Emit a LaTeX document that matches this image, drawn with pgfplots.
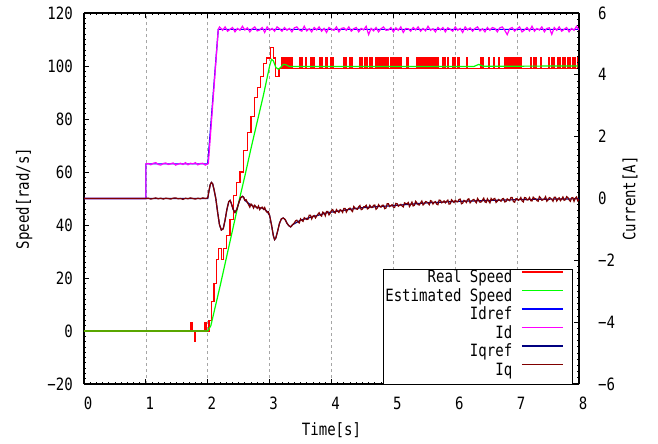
\documentclass[border=0pt]{standalone}
\usepackage{fontspec}
\setmainfont{DejaVu Sans Mono}[FakeStretch=0.83]
\usepackage{pgfplots}
\pgfplotsset{compat=1.18}
\newcommand{\fs}{\fontsize{17}{20}\selectfont}
\definecolor{cRed}{RGB}{255,0,0}
\definecolor{cGreen}{RGB}{0,255,0}
\definecolor{cBlue}{RGB}{0,0,255}
\definecolor{cMag}{RGB}{255,0,255}
\definecolor{cNavy}{RGB}{0,0,128}
\definecolor{cMaroon}{RGB}{128,0,0}
\pgfplotsset{
  common/.style={
    scale only axis, width=495bp, height=371bp,
    at={(0,0)}, anchor=south west,
    xmin=0, xmax=8,
    axis line style={line width=1.3bp, black, -},
    tick style={line width=0.8bp, black},
    major tick length=5bp, minor tick length=2.5bp,
    tick align=inside,
    tick label style={font=\fs},
    label style={font=\fs},
    every axis plot/.append style={line width=1.2bp},
  }
}
\begin{document}
\begin{tikzpicture}
\useasboundingbox (-84bp,-60bp) rectangle (574bp,384bp);
\begin{axis}[common,
  ymin=-20, ymax=120,
  axis y line*=left,
  xtick={0,1,2,3,4,5,6,7,8},
  xticklabels={0,1,2,3,4,5,6,7,8},
  xtick pos=both,
  minor x tick num=9,
  ytick={-20,0,20,40,60,80,100,120},
  yticklabels={−20,0,20,40,60,80,100,120},
  minor y tick num=9,
  xticklabel style={anchor=north, inner sep=0pt, yshift=-13bp, xshift=4bp},
  yticklabel style={anchor=east, inner sep=0pt, xshift=-11bp},
  xmajorgrids,
  major grid style={dashed, gray!70, line width=0.7bp},
  xlabel={Time[s]},
  xlabel style={at={(rel axis cs:0.5,-0.124)}, anchor=center},
  ylabel={Speed[rad/s]},
  ylabel style={at={(rel axis cs:-0.121,0.5)}, anchor=center},
]
\addplot[cRed] coordinates {
(0,0)(1.73,0)(1.73,3.3)(1.745,3.3)(1.745,0)(1.785,0)(1.785,-4)(1.795,-4)(1.795,0)
(1.95,0)(1.95,3.3)(1.96,3.3)(1.96,0)(1.97,0)(1.97,3.3)(1.98,3.3)(1.98,0)(2.02,0)
(2.02,4)(2.06,4)(2.06,11)(2.1,11)(2.1,18)(2.14,18)(2.14,27)(2.17,27)(2.17,31)(2.22,31)
(2.22,27)(2.25,27)(2.25,31)(2.3,31)(2.3,36)(2.36,36)(2.36,42)(2.42,42)(2.42,51)(2.47,51)
(2.47,56)(2.52,56)(2.52,60)(2.58,60)(2.58,68)(2.64,68)(2.64,75)(2.7,75)(2.7,81)(2.75,81)
(2.75,88)(2.8,88)(2.8,92)(2.85,92)(2.85,96)(2.9,96)(2.9,101)(2.95,101)(2.95,103)(3.01,103)
(3.01,107)(3.06,107)(3.06,103)(3.09,103)(3.09,96)(3.15,96)(3.15,99)(3.20,99)
(3.20,103)(3.215,103)(3.215,99)(3.23,99)(3.23,103)(3.245,103)(3.245,99)
(3.26,99)(3.26,103)(3.275,103)(3.275,99)(3.29,99)(3.29,103)(3.305,103)(3.305,99)
(3.32,99)(3.32,103)(3.335,103)(3.335,99)(3.35,99)(3.35,103)(3.365,103)(3.365,99)
(3.48,99)(3.48,103)(3.495,103)(3.495,99)(3.51,99)(3.51,103)(3.525,103)(3.525,99)
(3.58,99)(3.58,103)(3.595,103)(3.595,99)(3.67,99)(3.67,103)(3.685,103)(3.685,99)
(3.71,99)(3.71,103)(3.725,103)(3.725,99)(3.81,99)(3.81,103)(3.825,103)(3.825,99)
(3.83,99)(3.83,103)(3.845,103)(3.845,99)(3.90,99)(3.90,103)(3.915,103)(3.915,99)
(3.92,99)(3.92,103)(3.935,103)(3.935,99)(3.99,99)(3.99,103)(4.005,103)(4.005,99)
(4.01,99)(4.01,103)(4.025,103)(4.025,99)(4.19,99)(4.19,103)(4.205,103)(4.205,99)
(4.22,99)(4.22,103)(4.235,103)(4.235,99)(4.29,99)(4.29,103)(4.305,103)(4.305,99)
(4.33,99)(4.33,103)(4.345,103)(4.345,99)(4.45,99)(4.45,103)(4.465,103)(4.465,99)
(4.49,99)(4.49,103)(4.505,103)(4.505,99)(4.53,99)(4.53,103)(4.545,103)(4.545,99)
(4.57,99)(4.57,103)(4.585,103)(4.585,99)(4.61,99)(4.61,103)(4.625,103)(4.625,99)
(4.64,99)(4.64,103)(4.655,103)(4.655,99)(4.71,99)(4.71,103)(4.725,103)(4.725,99)
(4.74,99)(4.74,103)(4.755,103)(4.755,99)(4.77,99)(4.77,103)(4.785,103)(4.785,99)
(4.80,99)(4.80,103)(4.815,103)(4.815,99)(4.84,99)(4.84,103)(4.855,103)(4.855,99)
(4.87,99)(4.87,103)(4.885,103)(4.885,99)(4.90,99)(4.90,103)(4.915,103)(4.915,99)
(4.95,99)(4.95,103)(4.965,103)(4.965,99)(4.98,99)(4.98,103)(4.995,103)(4.995,99)
(5.02,99)(5.02,103)(5.035,103)(5.035,99)(5.05,99)(5.05,103)(5.065,103)(5.065,99)
(5.08,99)(5.08,103)(5.095,103)(5.095,99)(5.11,99)(5.11,103)(5.125,103)(5.125,99)
(5.22,99)(5.22,103)(5.235,103)(5.235,99)(5.38,99)(5.38,103)(5.395,103)(5.395,99)
(5.41,99)(5.41,103)(5.425,103)(5.425,99)(5.44,99)(5.44,103)(5.455,103)(5.455,99)
(5.47,99)(5.47,103)(5.485,103)(5.485,99)(5.50,99)(5.50,103)(5.515,103)(5.515,99)
(5.53,99)(5.53,103)(5.545,103)(5.545,99)(5.57,99)(5.57,103)(5.585,103)(5.585,99)
(5.60,99)(5.60,103)(5.615,103)(5.615,99)(5.64,99)(5.64,103)(5.655,103)(5.655,99)
(5.68,99)(5.68,103)(5.695,103)(5.695,99)(5.72,99)(5.72,103)(5.735,103)(5.735,99)
(5.79,99)(5.79,103)(5.805,103)(5.805,99)(5.83,99)(5.83,103)(5.845,103)(5.845,99)
(5.87,99)(5.87,103)(5.885,103)(5.885,99)(5.95,99)(5.95,103)(5.965,103)(5.965,99)
(5.99,99)(5.99,103)(6.005,103)(6.005,99)(6.03,99)(6.03,103)(6.045,103)(6.045,99)
(6.06,99)(6.06,103)(6.075,103)(6.075,99)(6.18,99)(6.18,103)(6.195,103)(6.195,99)
(6.41,99)(6.41,103)(6.425,103)(6.425,99)(6.44,99)(6.44,103)(6.455,103)(6.455,99)
(6.54,99)(6.54,103)(6.555,103)(6.555,99)(6.62,99)(6.62,103)(6.635,103)(6.635,99)
(6.70,99)(6.70,103)(6.715,103)(6.715,99)(6.79,99)(6.79,103)(6.805,103)(6.805,99)
(6.83,99)(6.83,103)(6.845,103)(6.845,99)(6.87,99)(6.87,103)(6.885,103)(6.885,99)
(6.91,99)(6.91,103)(6.925,103)(6.925,99)(6.95,99)(6.95,103)(6.965,103)(6.965,99)
(6.99,99)(6.99,103)(7.005,103)(7.005,99)(7.03,99)(7.03,103)(7.045,103)(7.045,99)
(7.06,99)(7.06,103)(7.075,103)(7.075,99)(7.22,99)(7.22,103)(7.235,103)(7.235,99)
(7.26,99)(7.26,103)(7.275,103)(7.275,99)(7.30,99)(7.30,103)(7.315,103)(7.315,99)
(7.38,99)(7.38,103)(7.395,103)(7.395,99)(7.51,99)(7.51,103)(7.525,103)(7.525,99)
(7.55,99)(7.55,103)(7.565,103)(7.565,99)(7.59,99)(7.59,103)(7.605,103)(7.605,99)
(7.65,99)(7.65,103)(7.665,103)(7.665,99)(7.69,99)(7.69,103)(7.705,103)(7.705,99)
(7.73,99)(7.73,103)(7.745,103)(7.745,99)(7.77,99)(7.77,103)(7.785,103)(7.785,99)
(7.81,99)(7.81,103)(7.825,103)(7.825,99)(7.85,99)(7.85,103)(7.865,103)(7.865,99)
(7.89,99)(7.89,103)(7.905,103)(7.905,99)(7.93,99)(7.93,103)(7.945,103)(7.945,99)
(7.97,99)(7.97,103)(7.985,103)(7.985,99)(8,99)
};
\addplot[cGreen] coordinates {
(0,0)(2.0,0)(2.05,2)(2.1,7)(2.2,17)(2.3,27.5)(2.4,38)(2.5,48.5)(2.6,58.5)(2.7,69)
(2.8,79)(2.9,89)(2.95,94.5)(3.0,100)(3.03,102.5)(3.06,102)(3.1,99.5)(3.14,98.8)
(3.18,99.5)(3.22,100.6)(3.26,100.5)(3.32,99.8)(3.5,99.8)(6.3,99.8)(6.38,100.6)(6.45,99.9)(8,100)
};
\end{axis}
\begin{axis}[common,
  ymin=-6, ymax=6,
  axis y line*=right,
  axis x line=none,
  ytick={-6,-4,-2,0,2,4,6},
  yticklabels={−6,−4,−2,0,2,4,6},
  minor y tick num=9,
  yticklabel style={anchor=west, inner sep=0pt, xshift=19bp},
  ylabel={Current[A]},
  ylabel style={at={(rel axis cs:1.103,0.5)}, anchor=center, rotate=0},
  legend plot pos=right,
  legend cell align=right,
  legend image code/.code={\path[draw=none] (0bp,0bp) rectangle (48bp,8bp); \draw[#1] (0bp,8bp) -- (41bp,8bp);},
  legend style={at={(rel axis cs:0.986,0)}, anchor=south east, draw=black,
    fill=white, inner xsep=2bp, inner ysep=2bp, font=\fs,
    row sep=0pt, column sep=9bp,
    nodes={inner sep=0pt, text height=12bp, text depth=6.5bp}},
]
\addlegendimage{draw=cRed, line width=1.2bp}
\addlegendentry{Real Speed}
\addlegendimage{draw=cGreen, line width=1.2bp}
\addlegendentry{Estimated Speed}
\addplot[draw=cBlue, line width=1.2bp] coordinates {(0,0)(1.0,0)(1.0,1.12)(2.0,1.12)(2.17,5.47)(8,5.47)};
\addlegendentry{Idref}
\addplot[draw=cMag, line width=1.2bp] coordinates {
(0,0)(1.0,0)(1.0,1.12)(1.04,1.13)(1.08,1.09)(1.12,1.14)(1.16,1.16)(1.20,1.10)(1.24,1.08)
(1.28,1.13)(1.32,1.15)(1.36,1.10)(1.40,1.12)(1.44,1.15)(1.48,1.08)(1.52,1.11)(1.56,1.14)
(1.60,1.10)(1.64,1.16)(1.68,1.09)(1.72,1.14)(1.76,1.12)(1.80,1.16)(1.84,1.09)(1.88,1.13)
(1.92,1.14)(1.96,1.08)(2.00,1.12)(2.01,1.14)(2.17,5.47)(2.19,5.55)(2.22,5.49)
(2.24,5.44)(2.28,5.55)(2.32,5.41)(2.36,5.47)(2.40,5.53)(2.44,5.39)(2.48,5.50)(2.52,5.44)
(2.56,5.57)(2.60,5.45)(2.64,5.52)(2.68,5.39)(2.72,5.49)(2.76,5.55)(2.80,5.42)(2.84,5.45)
(2.88,5.53)(2.92,5.37)(2.96,5.55)(3.00,5.44)(3.04,5.50)(3.08,5.41)(3.12,5.55)(3.16,5.49)
(3.20,5.41)(3.24,5.53)(3.28,5.44)(3.32,5.50)(3.36,5.39)(3.40,5.52)(3.44,5.55)(3.48,5.45)
(3.52,5.41)(3.56,5.57)(3.60,5.42)(3.64,5.49)(3.68,5.39)(3.72,5.53)(3.76,5.45)(3.80,5.55)
(3.84,5.41)(3.88,5.50)(3.92,5.37)(3.96,5.53)(4.00,5.47)(4.04,5.44)(4.08,5.55)(4.12,5.39)
(4.16,5.50)(4.20,5.52)(4.24,5.44)(4.28,5.55)(4.32,5.41)(4.36,5.49)(4.40,5.53)(4.44,5.39)
(4.48,5.50)(4.52,5.45)(4.56,5.57)(4.60,5.30)(4.64,5.50)(4.68,5.42)(4.72,5.53)(4.76,5.39)
(4.80,5.49)(4.84,5.55)(4.88,5.44)(4.92,5.45)(4.96,5.53)(5.00,5.39)(5.04,5.52)(5.08,5.44)
(5.12,5.55)(5.16,5.37)(5.20,5.50)(5.24,5.49)(5.28,5.41)(5.32,5.53)(5.36,5.45)(5.40,5.55)
(5.44,5.41)(5.48,5.50)(5.52,5.42)(5.56,5.57)(5.60,5.44)(5.64,5.49)(5.68,5.39)(5.72,5.53)
(5.76,5.45)(5.80,5.53)(5.84,5.39)(5.88,5.52)(5.92,5.47)(5.96,5.41)(6.00,5.55)(6.04,5.44)
(6.08,5.50)(6.12,5.37)(6.16,5.55)(6.20,5.45)(6.24,5.52)(6.28,5.41)(6.32,5.50)(6.36,5.55)
(6.40,5.42)(6.44,5.49)(6.48,5.39)(6.52,5.53)(6.56,5.44)(6.60,5.53)(6.64,5.50)(6.68,5.39)
(6.72,5.52)(6.76,5.55)(6.80,5.44)(6.84,5.30)(6.88,5.49)(6.92,5.53)(6.96,5.41)(7.00,5.49)
(7.04,5.55)(7.08,5.39)(7.12,5.45)(7.16,5.53)(7.20,5.42)(7.24,5.57)(7.28,5.41)(7.32,5.50)
(7.36,5.45)(7.40,5.55)(7.44,5.39)(7.48,5.50)(7.52,5.52)(7.56,5.31)(7.60,5.53)(7.64,5.44)
(7.68,5.55)(7.72,5.41)(7.76,5.47)(7.80,5.53)(7.84,5.39)(7.88,5.50)(7.92,5.44)(7.96,5.57)
(8.00,5.45)
};
\addlegendentry{Id}
\addplot[draw=cNavy, line width=1.2bp] coordinates {
(0,0)(2.0,0)(2.02,0.25)(2.04,0.45)(2.06,0.52)(2.08,0.47)(2.10,0.3)(2.13,0.0)(2.16,-0.45)
(2.19,-0.85)(2.22,-1.02)(2.25,-0.98)(2.28,-0.7)(2.31,-0.35)(2.34,-0.1)(2.36,-0.06)(2.38,-0.15)
(2.41,-0.35)(2.44,-0.45)(2.47,-0.35)(2.50,-0.15)(2.53,0.02)(2.56,0.07)(2.58,0.04)(2.60,-0.06)
(2.7,-0.22)(2.8,-0.29)(2.9,-0.32)(2.96,-0.42)(3.00,-0.55)(3.03,-0.85)(3.06,-1.2)(3.08,-1.33)
(3.10,-1.28)(3.13,-1.05)(3.16,-0.8)(3.19,-0.66)(3.22,-0.63)(3.25,-0.68)(3.28,-0.8)(3.31,-0.88)
(3.34,-0.92)(3.37,-0.85)(3.5,-0.7)(3.93,-0.46)(4.47,-0.30)(5.0,-0.23)(5.55,-0.14)(6.08,-0.09)
(7.16,-0.03)(8,-0.01)
};
\addlegendentry{Iqref}
\addplot[draw=cMaroon, line width=1.2bp] coordinates {
(0,0)(1.0,0)(1.04,0.01)(1.08,-0.02)(1.12,0.0)(1.16,0.02)(1.2,-0.01)(1.24,0.01)(1.28,-0.02)
(1.32,0.01)(1.36,0.0)(1.4,-0.02)(1.44,0.01)(1.48,0.02)(1.52,-0.01)(1.56,0.0)(1.6,-0.03)
(1.64,0.01)(1.68,-0.01)(1.72,0.02)(1.76,0.0)(1.8,-0.02)(1.84,0.01)(1.88,-0.01)(1.92,0.02)
(1.96,0.0)(2.0,0.02)(2.02,0.25)(2.04,0.45)(2.06,0.52)(2.08,0.47)(2.10,0.3)(2.13,0.0)
(2.16,-0.45)(2.19,-0.85)(2.22,-1.02)(2.25,-0.98)(2.28,-0.7)(2.31,-0.35)(2.34,-0.1)(2.36,-0.06)
(2.38,-0.15)(2.41,-0.35)(2.44,-0.45)(2.47,-0.35)(2.50,-0.15)(2.53,0.02)(2.56,0.07)(2.58,0.04)
(2.60,-0.06)(2.62,-0.04)(2.64,-0.13)(2.66,-0.20)(2.68,-0.28)(2.70,-0.18)(2.72,-0.22)
(2.74,-0.31)(2.76,-0.22)(2.78,-0.27)(2.80,-0.32)(2.82,-0.24)(2.84,-0.36)(2.86,-0.30)
(2.88,-0.28)(2.90,-0.35)(2.92,-0.29)(2.94,-0.40)(2.96,-0.45)(2.98,-0.43)(3.00,-0.55)
(3.03,-0.85)(3.06,-1.2)(3.08,-1.33)(3.10,-1.28)(3.13,-1.05)(3.16,-0.8)(3.19,-0.66)
(3.22,-0.63)(3.25,-0.68)(3.28,-0.8)(3.31,-0.88)(3.34,-0.92)(3.37,-0.85)
(3.40,-0.79)(3.42,-0.72)(3.44,-0.70)(3.46,-0.77)(3.48,-0.79)(3.50,-0.66)(3.52,-0.71)(3.54,-0.74)
(3.56,-0.62)(3.58,-0.65)(3.60,-0.68)(3.62,-0.67)(3.64,-0.54)(3.66,-0.54)(3.68,-0.66)(3.70,-0.57)
(3.72,-0.55)(3.74,-0.63)(3.76,-0.57)(3.78,-0.51)(3.80,-0.46)(3.82,-0.54)(3.84,-0.57)(3.86,-0.44)
(3.88,-0.47)(3.90,-0.56)(3.92,-0.42)(3.94,-0.42)(3.96,-0.53)(3.98,-0.47)(4.00,-0.39)(4.02,-0.36)
(4.04,-0.45)(4.06,-0.47)(4.08,-0.36)(4.10,-0.41)(4.12,-0.45)(4.14,-0.36)(4.16,-0.39)(4.18,-0.45)
(4.20,-0.32)(4.22,-0.32)(4.24,-0.44)(4.26,-0.37)(4.28,-0.33)(4.30,-0.31)(4.32,-0.38)(4.34,-0.42)
(4.36,-0.26)(4.38,-0.31)(4.40,-0.34)(4.42,-0.35)(4.44,-0.27)(4.46,-0.23)(4.48,-0.36)(4.50,-0.34)
(4.52,-0.27)(4.54,-0.27)(4.56,-0.22)(4.58,-0.34)(4.60,-0.32)(4.62,-0.22)(4.64,-0.29)(4.66,-0.29)
(4.68,-0.22)(4.70,-0.21)(4.72,-0.35)(4.74,-0.31)(4.76,-0.20)(4.78,-0.25)(4.80,-0.28)(4.82,-0.22)
(4.84,-0.22)(4.86,-0.33)(4.88,-0.31)(4.90,-0.17)(4.92,-0.17)(4.94,-0.26)(4.96,-0.23)(4.98,-0.20)
(5.00,-0.28)(5.02,-0.29)(5.04,-0.16)(5.06,-0.17)(5.08,-0.25)(5.10,-0.22)(5.12,-0.19)(5.14,-0.24)
(5.16,-0.27)(5.18,-0.14)(5.20,-0.16)(5.22,-0.18)(5.24,-0.13)(5.26,-0.26)(5.28,-0.20)(5.30,-0.12)
(5.32,-0.24)(5.34,-0.22)(5.36,-0.09)(5.38,-0.14)(5.40,-0.20)(5.42,-0.21)(5.44,-0.14)(5.46,-0.08)
(5.48,-0.21)(5.50,-0.17)(5.52,-0.10)(5.54,-0.11)(5.56,-0.15)(5.58,-0.20)(5.60,-0.07)(5.62,-0.09)
(5.64,-0.18)(5.66,-0.12)(5.68,-0.10)(5.70,-0.18)(5.72,-0.20)(5.74,-0.05)(5.76,-0.06)(5.78,-0.14)
(5.80,-0.12)(5.82,-0.08)(5.84,-0.14)(5.86,-0.09)(5.88,-0.05)(5.90,-0.18)(5.92,-0.17)(5.94,-0.04)
(5.96,-0.08)(5.98,-0.13)(6.00,-0.06)(6.02,-0.10)(6.04,-0.11)(6.06,-0.03)(6.08,-0.02)(6.10,-0.17)
(6.12,-0.15)(6.14,-0.06)(6.16,-0.08)(6.18,-0.13)(6.20,-0.03)(6.22,-0.01)(6.24,-0.14)(6.26,-0.09)
(6.28,-0.05)(6.30,-0.03)(6.32,-0.09)(6.34,-0.14)(6.36,0.00)(6.38,-0.06)(6.40,-0.12)(6.42,-0.11)
(6.44,-0.05)(6.46,0.01)(6.48,-0.11)(6.50,-0.13)(6.52,-0.01)(6.54,-0.08)(6.56,-0.14)(6.58,0.00)
(6.60,-0.05)(6.62,-0.02)(6.64,0.00)(6.66,-0.13)(6.68,-0.09)(6.70,-0.03)(6.72,-0.06)(6.74,-0.09)
(6.76,-0.01)(6.78,0.00)(6.80,-0.11)(6.82,-0.10)(6.84,-0.01)(6.86,-0.04)(6.88,-0.07)(6.90,0.03)
(6.92,0.03)(6.94,-0.10)(6.96,-0.12)(6.98,-0.01)(7.00,-0.01)(7.02,-0.06)(7.04,-0.03)(7.06,0.03)
(7.08,-0.08)(7.10,-0.11)(7.12,0.03)(7.14,0.02)(7.16,-0.05)(7.18,-0.04)(7.20,0.03)(7.22,-0.07)
(7.24,-0.08)(7.26,0.04)(7.28,0.00)(7.30,-0.01)(7.32,-0.07)(7.34,-0.09)(7.36,0.06)(7.38,0.02)
(7.40,-0.06)(7.42,-0.04)(7.44,-0.01)(7.46,0.06)(7.48,-0.09)(7.50,-0.05)(7.52,0.03)(7.54,0.01)
(7.56,-0.03)(7.58,-0.09)(7.60,0.04)(7.62,0.04)(7.64,-0.08)(7.66,-0.02)(7.68,0.02)(7.70,-0.07)
(7.72,-0.02)(7.74,0.05)(7.76,-0.06)(7.78,-0.04)(7.80,0.06)(7.82,0.03)(7.84,-0.04)(7.86,-0.09)
(7.88,0.02)(7.90,0.03)(7.92,-0.09)(7.94,0.01)(7.96,0.05)(7.98,-0.07)(8.00,-0.03)
};
\addlegendentry{Iq}
\end{axis}
\end{tikzpicture}
\end{document}
